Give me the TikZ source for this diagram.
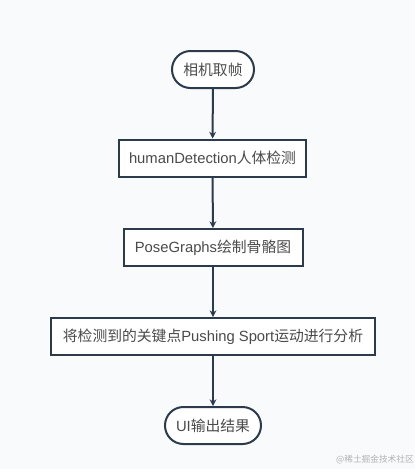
\documentclass[tikz,border=0pt]{standalone}
\usepackage{fontspec}
\setmainfont{Liberation Sans}
\newfontfamily\cjk{Noto Sans CJK SC}
\usetikzlibrary{arrows.meta}
\definecolor{bg}{HTML}{F8FAFC}
\definecolor{ln}{HTML}{2C3B4B}
\definecolor{tx}{HTML}{4A4A4A}
\tikzset{
  px/.style={x=0.75pt,y=-0.75pt},
  term/.style={draw=ln, line width=1.5pt, fill=white, rounded corners=18.5*0.75pt, minimum height=37*0.75pt, text=tx, font=\fontsize{11.1}{13}\selectfont, inner sep=0pt},
  proc/.style={draw=ln, line width=1.5pt, fill=white, minimum height=37*0.75pt, text=tx, font=\fontsize{11.1}{13}\selectfont, inner sep=0pt},
  flow/.style={draw=ln, line width=1.5pt, -{Stealth[length=5pt,width=5pt]}}
}
\begin{document}
\begin{tikzpicture}[px]
\fill[bg] (0,0) rectangle (415,469);
\useasboundingbox (0,0) rectangle (415,469);
\node[term, minimum width=82*0.75pt] (a) at (213,69.5) {\cjk 相机取帧};
\node[proc, minimum width=187*0.75pt] (b) at (212.5,158) {humanDetection{\cjk 人体检测}};
\node[proc, minimum width=179*0.75pt] (c) at (213,247.5) {PoseGraphs{\cjk 绘制骨骼图}};
\node[proc, minimum width=324*0.75pt] (d) at (213,336.5) {{\cjk 将检测到的关键点}Pushing Sport{\cjk 运动进行分析}};
\node[term, minimum width=96*0.75pt] (e) at (213,425.5) {UI{\cjk 输出结果}};
\draw[flow] (a) -- (b);
\draw[flow] (b) -- (c);
\draw[flow] (c) -- (d);
\draw[flow] (d) -- (e);
\node[text=gray!60, font=\cjk\fontsize{6.5}{8}\selectfont, anchor=east, inner sep=0pt] (wm) at (414,460) {@稀土掘金技术社区};
\end{tikzpicture}
\end{document}
